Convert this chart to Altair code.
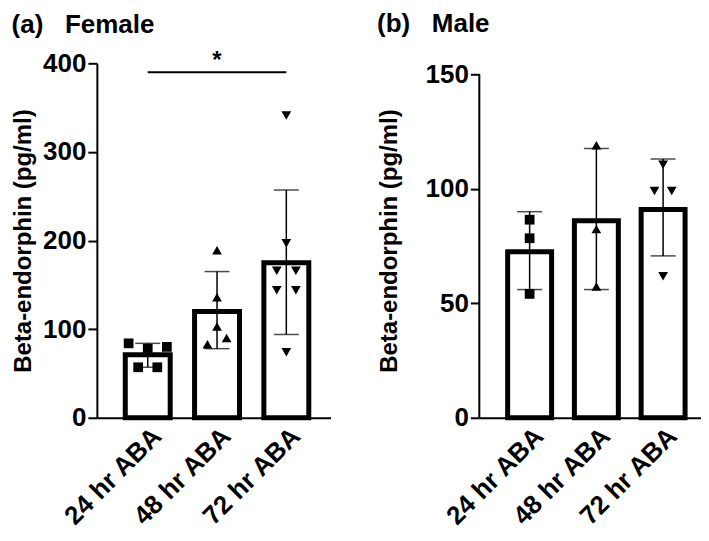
import altair as alt
import pandas as pd

FONT = "Liberation Sans"
groups = ["24 hr ABA", "48 hr ABA", "72 hr ABA"]
group_idx = [0, 1, 2]
shapes = ["square", "triangle-up", "triangle-down"]

# Female panel
f_mean = [71, 120, 175]
f_low = [57, 78, 94]
f_high = [84, 165, 257]
f_pt_idx = [0] * 5 + [1] * 5 + [2] * 7
f_pt_value = [84, 78, 80, 57, 57, 189, 136, 103, 83, 90, 341, 197, 166, 166, 144, 144, 74]
f_pt_slot = [-2, 0, 2, -1, 1, 0, 0, 0, -1, 1, 0, 0, -1, 1, -1, 1, 0]
sig_from, sig_to, sig_y, sig_label, sig_star_y = 0, 2, 390, "*", 403

# Male panel
m_mean = [72.5, 86, 91]
m_low = [56, 56, 70.7]
m_high = [90, 117.6, 113]
m_pt_idx = [0] * 3 + [1] * 3 + [2] * 4
m_pt_value = [86.5, 78.4, 54.1, 119, 82.4, 57.3, 110.5, 99, 99, 61.8]
m_pt_slot = [0, 0, 0, 0, 0, 0, 0, -1, 1, 0]

label_expr = "[" + ",".join("'%s'" % g for g in groups) + "][datum.value]"


def panel(mean, low, high, pidx, pv, ps, ymax, ystep, ytop, xdom, barw, slotw, w, h, title,
          tpad, toff, sig=False, axisline=False):
    bars = pd.DataFrame({"idx": group_idx, "group": groups, "mean": mean, "low": low, "high": high})
    pts = pd.DataFrame({"idx": pidx, "value": pv, "slot": ps,
                        "group": [groups[i] for i in pidx]})
    xs = alt.Scale(domain=xdom, nice=False, zero=False)
    ys = alt.Scale(domain=[0, ytop], nice=False)
    xax = alt.Axis(title=None, values=group_idx, labelExpr=label_expr, labelAngle=-45,
                   labelAlign="right", labelBaseline="top", ticks=False, labelPadding=5,
                   labelOverlap=False, grid=False)
    yax = alt.Axis(title="Beta-endorphin (pg/ml)", values=list(range(0, ymax + 1, ystep)),
                   titlePadding=tpad, labelPadding=2, tickSize=9, domain=not axisline)
    base = alt.Chart(bars)
    b = base.mark_bar(fill="white", stroke="black", strokeWidth=5, size=barw).encode(
        x=alt.X("idx:Q", scale=xs, axis=xax), y=alt.Y("mean:Q", scale=ys, axis=yax))
    p = alt.Chart(pts).transform_calculate(
        px="datum.idx + datum.slot * %f" % slotw
    ).mark_point(filled=True, color="black", opacity=1, size=95).encode(
        x=alt.X("px:Q", scale=xs),
        y=alt.Y("value:Q", scale=ys),
        shape=alt.Shape("group:N", scale=alt.Scale(domain=groups, range=shapes), legend=None))
    r = base.mark_rule(color="black", strokeWidth=1.5).encode(
        x=alt.X("idx:Q", scale=xs), y=alt.Y("low:Q", scale=ys), y2="high:Q")
    t1 = base.mark_tick(color="black", thickness=1.5, size=25, orient="horizontal").encode(
        x=alt.X("idx:Q", scale=xs), y=alt.Y("high:Q", scale=ys))
    t2 = base.mark_tick(color="black", thickness=1.5, size=25, orient="horizontal").encode(
        x=alt.X("idx:Q", scale=xs), y=alt.Y("low:Q", scale=ys))
    layers = [b, p, r, t1, t2]
    if axisline:
        ad = pd.DataFrame({"y0": [0], "y1": [ymax]})
        layers.append(alt.Chart(ad).mark_rule(color="black", strokeWidth=2).encode(
            x=alt.value(0), y=alt.Y("y0:Q", scale=ys), y2="y1:Q"))
    if sig:
        sd = pd.DataFrame({"a": [sig_from], "b": [sig_to], "y": [sig_y], "sy": [sig_star_y],
                           "mid": [(sig_from + sig_to) / 2], "lab": [sig_label]})
        layers.append(alt.Chart(sd).mark_rule(color="black", strokeWidth=2).encode(
            x=alt.X("a:Q", scale=xs), x2="b:Q", y=alt.Y("y:Q", scale=ys)))
        layers.append(alt.Chart(sd).mark_text(font=FONT, fontSize=24, fontWeight="bold",
                                              baseline="middle").encode(
            x=alt.X("mid:Q", scale=xs), y=alt.Y("sy:Q", scale=ys), text="lab:N"))
    return alt.layer(*layers).properties(
        width=w, height=h,
        title=alt.TitleParams(title, anchor="start", frame="bounds", font=FONT, fontSize=26,
                              fontWeight="bold", color="black", offset=toff))


left = panel(f_mean, f_low, f_high, f_pt_idx, f_pt_value, f_pt_slot, 400, 100, 400,
             [-0.662, 2.566], 45, 0.138, 234, 355,
             "(a)\u00a0\u00a0\u00a0Female", 7, 11, sig=True)
right = panel(m_mean, m_low, m_high, m_pt_idx, m_pt_value, m_pt_slot, 150, 50, 154.8,
              [-0.679, 2.493], 44, 0.129, 222, 355,
              "(b)\u00a0\u00a0\u00a0Male", 24, 24, axisline=True)

chart = alt.hconcat(left, right, spacing=46).properties(
    padding={"left": 3, "top": 3, "right": 0, "bottom": 0}
).configure_view(stroke=None).configure_axis(
    domainColor="black", domainWidth=2, tickColor="black", tickWidth=2,
    labelColor="black", labelFont=FONT, labelFontSize=26, labelFontWeight="bold",
    titleColor="black", titleFont=FONT, titleFontSize=24, titleFontWeight="bold",
    grid=False, labelFlush=False
)

chart.save("out.html", embed_options={"renderer": "svg", "actions": False})
